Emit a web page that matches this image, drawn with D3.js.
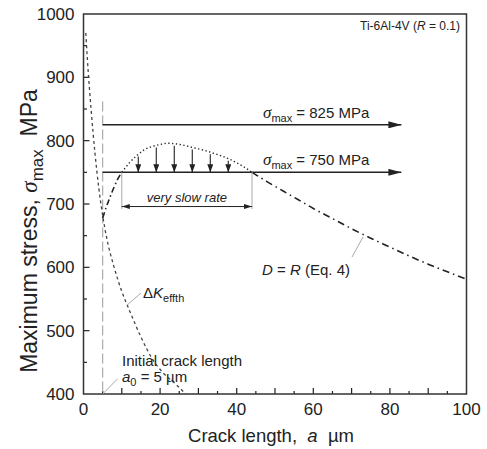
<!DOCTYPE html>
<html>
<head>
<meta charset="utf-8">
<script src="https://cdn.jsdelivr.net/npm/d3@7"></script>
<style>
  body { margin: 0; background: #fff; }
  svg { display: block; font-family: "Liberation Sans", Arial, sans-serif; }
</style>
</head>
<body>
<svg id="chart" width="487" height="449"></svg>
<script>
// ---- data ----
// threshold curve (Delta K_effth)
const dkA = [0.6, 1, 2, 3, 4, 5, 6, 8, 10, 12, 15, 18, 21, 24, 27];
const dkS = [970, 930, 848, 780, 725, 682, 648, 600, 562, 532, 490, 455, 432, 416, 398];

// D = R curve, split into the three drawn pieces
const riseA = [5, 6, 7, 8, 9, 10];
const riseS = [678, 696, 712, 727, 740, 750];
const humpA = [10, 12, 14, 16, 18, 20, 22, 24, 26, 28, 30, 32, 34, 36, 38, 40, 42, 44];
const humpS = [750, 765, 777, 786, 791, 794, 796, 795, 793, 790, 787, 784, 780, 776, 771, 765, 758, 750];
const fallA = [44, 48, 52, 56, 60, 65, 70, 75, 80, 85, 90, 95, 100];
const fallS = [750, 735, 721, 707, 693, 677, 661, 646, 632, 618, 605, 593, 581];

// applied stress levels and the arrows down to the 750 line
const stressLevels = [825, 750];
const loadStart = 5, loadEnd = 83;
const dropA = [14.3, 19, 23.7, 28.4, 33.1, 37.8];

const a0 = 5;
const xTicks = [0, 20, 40, 60, 80, 100];
const yTicks = [400, 500, 600, 700, 800, 900, 1000];

// ---- layout ----
const svg = d3.select('#chart');
const W = 487, H = 449;
const margin = { top: 14, right: 20.5, bottom: 55, left: 83.5 };

const x = d3.scaleLinear().domain([0, 100]).range([margin.left, W - margin.right]);
const y = d3.scaleLinear().domain([400, 1000]).range([H - margin.bottom, margin.top]);

const ink = '#222';

// arrowhead markers
const defs = svg.append('defs');
function addMarker(id, len, half) {
    defs.append('marker')
        .attr('id', id)
        .attr('markerUnits', 'userSpaceOnUse')
        .attr('viewBox', `0 ${-half} ${len} ${half * 2}`)
        .attr('refX', len)
        .attr('refY', 0)
        .attr('markerWidth', len)
        .attr('markerHeight', half * 2)
        .attr('orient', 'auto-start-reverse')
        .append('path')
        .attr('d', `M0,${-half}L${len},0L0,${half}Z`)
        .attr('fill', ink);
}
addMarker('big', 13, 3.5);
addMarker('small', 8, 3);
addMarker('tiny', 8, 2.5);

defs.append('clipPath').attr('id', 'plot')
    .append('rect')
    .attr('x', x(0)).attr('y', y(1000))
    .attr('width', x(100) - x(0)).attr('height', y(400) - y(1000));

// ---- axes: inward ticks, frame ----
const g = svg.append('g');

const xMinor = d3.range(5, 100, 5);
g.selectAll('.xt').data(xMinor).enter().append('line')
    .attr('x1', d => x(d)).attr('x2', d => x(d))
    .attr('y1', y(400)).attr('y2', d => y(400) - (d % 10 === 0 ? 6 : 3))
    .attr('stroke', ink).attr('stroke-width', 1.2);

const yMinor = d3.range(450, 1000, 50);
g.selectAll('.yt').data(yMinor).enter().append('line')
    .attr('y1', d => y(d)).attr('y2', d => y(d))
    .attr('x1', x(0)).attr('x2', d => x(0) + (d % 100 === 0 ? 6 : 3.5))
    .attr('stroke', ink).attr('stroke-width', 1.2);

g.append('rect')
    .attr('x', x(0)).attr('y', y(1000))
    .attr('width', x(100) - x(0)).attr('height', y(400) - y(1000))
    .attr('fill', 'none').attr('stroke', '#333').attr('stroke-width', 1.5);

g.selectAll('.xl').data(xTicks).enter().append('text')
    .attr('x', d => x(d)).attr('y', y(400) + 21)
    .attr('text-anchor', 'middle')
    .style('font-size', '17px').attr('fill', ink)
    .text(d => d);

g.selectAll('.yl').data(yTicks).enter().append('text')
    .attr('x', x(0) - 9).attr('y', d => y(d))
    .attr('dy', '0.36em')
    .attr('text-anchor', 'end')
    .style('font-size', '17px').attr('fill', ink)
    .text(d => d);

// axis titles
const xt = svg.append('text')
    .attr('x', 271).attr('y', 442)
    .attr('text-anchor', 'middle')
    .style('font-size', '18.5px').attr('fill', ink);
xt.append('tspan').text('Crack length,\u00a0\u00a0');
xt.append('tspan').style('font-style', 'italic').text('a');
xt.append('tspan').text('\u00a0\u00a0\u00b5m');

const yt = svg.append('text')
    .attr('transform', 'translate(37,231) rotate(-90)')
    .attr('text-anchor', 'middle')
    .style('font-size', '23px').attr('fill', ink);
yt.append('tspan').text('Maximum stress,\u00a0');
yt.append('tspan').style('font-style', 'italic').style('font-family', '"Liberation Serif", serif').text('\u03c3');
yt.append('tspan').attr('dy', 6).style('font-size', '17px').text('max');
yt.append('tspan').attr('dy', -6).text('\u00a0\u00a0MPa');

// ---- curves ----
const line = d3.line().x(d => x(d[0])).y(d => y(d[1])).curve(d3.curveMonotoneX);
const plot = svg.append('g').attr('clip-path', 'url(#plot)');

// initial crack length marker
plot.append('line')
    .attr('x1', x(a0)).attr('x2', x(a0))
    .attr('y1', y(862)).attr('y2', y(400))
    .attr('stroke', '#aaa').attr('stroke-width', 1.2)
    .attr('stroke-dasharray', '10,4');

plot.append('path')
    .datum(d3.zip(dkA, dkS))
    .attr('d', line)
    .attr('fill', 'none').attr('stroke', '#444').attr('stroke-width', 1.3)
    .attr('stroke-dasharray', '3,3');

plot.append('path')
    .datum(d3.zip(riseA, riseS))
    .attr('d', line)
    .attr('fill', 'none').attr('stroke', ink).attr('stroke-width', 1.6)
    .attr('stroke-dasharray', '6,3,1.5,3');

plot.append('path')
    .datum(d3.zip(humpA, humpS))
    .attr('d', line)
    .attr('fill', 'none').attr('stroke', ink).attr('stroke-width', 1.4)
    .attr('stroke-dasharray', '1.3,2.5');

plot.append('path')
    .datum(d3.zip(fallA, fallS))
    .attr('d', line)
    .attr('fill', 'none').attr('stroke', ink).attr('stroke-width', 1.6)
    .attr('stroke-dasharray', '7,4,1.5,4');

// ---- loading lines ----
svg.selectAll('.load').data(stressLevels).enter().append('line')
    .attr('x1', x(loadStart)).attr('x2', x(loadEnd))
    .attr('y1', d => y(d)).attr('y2', d => y(d))
    .attr('stroke', ink).attr('stroke-width', 1.5)
    .attr('marker-end', 'url(#big)');

stressLevels.forEach(s => {
    const t = svg.append('text')
        .attr('x', 263).attr('y', y(s) - 7)
        .style('font-size', '15px').attr('fill', ink);
    t.append('tspan').style('font-style', 'italic').style('font-family', '"Liberation Serif", serif')
        .style('font-size', '17px').text('\u03c3');
    t.append('tspan').attr('dy', 4).style('font-size', '11px').text('max');
    t.append('tspan').attr('dy', -4).text(` = ${s} MPa`);
});

// drop arrows from the hump down to 750
const humpAt = d3.scaleLinear().domain(humpA).range(humpS);
svg.selectAll('.drop').data(dropA).enter().append('line')
    .attr('x1', d => x(d)).attr('x2', d => x(d))
    .attr('y1', d => y(humpAt(d)) + 2).attr('y2', y(750))
    .attr('stroke', ink).attr('stroke-width', 1.1)
    .attr('marker-end', 'url(#small)');

// "very slow rate" bracket
const slowFrom = 10, slowTo = 44, slowLevel = 696;
[slowFrom, slowTo].forEach(a => {
    svg.append('line')
        .attr('x1', x(a)).attr('x2', x(a))
        .attr('y1', y(750)).attr('y2', y(slowLevel - 4))
        .attr('stroke', '#aaa').attr('stroke-width', 1);
});
svg.append('line')
    .attr('x1', x(slowFrom)).attr('x2', x(slowTo))
    .attr('y1', y(slowLevel)).attr('y2', y(slowLevel))
    .attr('stroke', ink).attr('stroke-width', 1)
    .attr('marker-start', 'url(#tiny)')
    .attr('marker-end', 'url(#tiny)');
svg.append('text')
    .attr('x', x((slowFrom + slowTo) / 2)).attr('y', y(slowLevel) - 5)
    .attr('text-anchor', 'middle')
    .style('font-size', '13px').style('font-style', 'italic').attr('fill', ink)
    .text('very slow rate');

// ---- annotations ----
svg.append('text')
    .attr('x', 460).attr('y', 30)
    .attr('text-anchor', 'end')
    .style('font-size', '12px').attr('fill', ink)
    .call(t => {
        t.append('tspan').text('Ti-6Al-4V (');
        t.append('tspan').style('font-style', 'italic').text('R');
        t.append('tspan').text(' = 0.1)');
    });

const dr = svg.append('text')
    .attr('x', 262).attr('y', 275)
    .style('font-size', '15px').attr('fill', ink);
dr.append('tspan').style('font-style', 'italic').text('D');
dr.append('tspan').text(' = ');
dr.append('tspan').style('font-style', 'italic').text('R');
dr.append('tspan').text(' (Eq. 4)');
svg.append('line')
    .attr('x1', 352).attr('y1', 257).attr('x2', x(73)).attr('y2', y(648))
    .attr('stroke', '#aaa').attr('stroke-width', 1);

const dk = svg.append('text')
    .attr('x', 143).attr('y', 298)
    .style('font-size', '15px').attr('fill', ink);
dk.append('tspan').text('\u0394');
dk.append('tspan').style('font-style', 'italic').text('K');
dk.append('tspan').attr('dy', 4).style('font-size', '11px').text('effth');
svg.append('line')
    .attr('x1', x(11.5)).attr('y1', y(541)).attr('x2', 141).attr('y2', 293)
    .attr('stroke', '#aaa').attr('stroke-width', 1);

svg.append('text')
    .attr('x', 122).attr('y', 366)
    .style('font-size', '15px').attr('fill', ink)
    .text('Initial crack length');
const a0t = svg.append('text')
    .attr('x', 122).attr('y', 382)
    .style('font-size', '15px').attr('fill', ink);
a0t.append('tspan').style('font-style', 'italic').text('a');
a0t.append('tspan').attr('dy', 4).style('font-size', '11px').text('0');
a0t.append('tspan').attr('dy', -4).text(' = 5 \u00b5m');
svg.append('line')
    .attr('x1', x(a0)).attr('y1', y(400)).attr('x2', x(8.9)).attr('y2', y(424))
    .attr('stroke', '#aaa').attr('stroke-width', 1);
</script>
</body>
</html>
